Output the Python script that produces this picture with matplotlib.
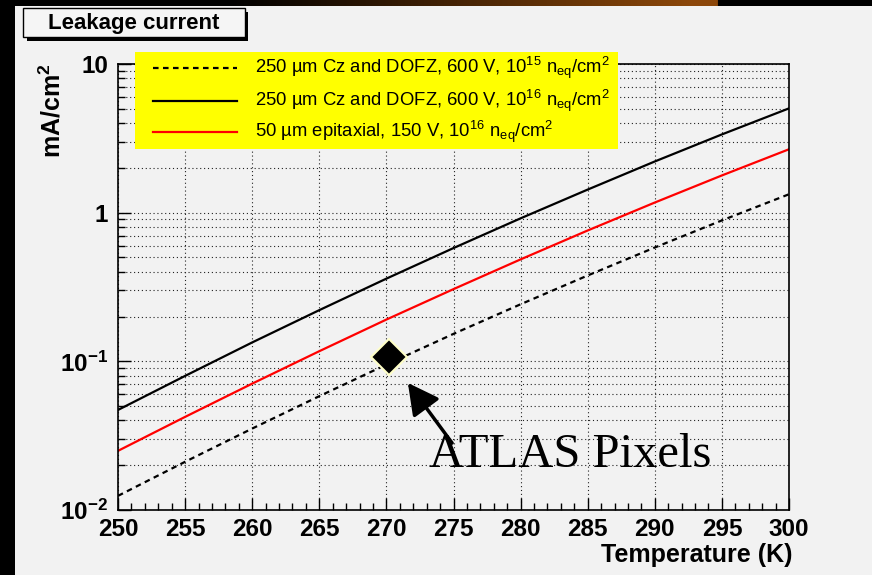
import numpy as np
import matplotlib
matplotlib.use("Agg")
import matplotlib.pyplot as plt
from matplotlib.patches import Rectangle
from matplotlib.lines import Line2D
from matplotlib.ticker import LogLocator, MultipleLocator, NullFormatter

plt.rcParams['font.family'] = ['Liberation Sans', 'DejaVu Sans']
plt.rcParams['mathtext.fontset'] = 'custom'
plt.rcParams['mathtext.rm'] = 'Liberation Sans'
plt.rcParams['mathtext.bf'] = 'Liberation Sans:bold'
plt.rcParams['mathtext.it'] = 'Liberation Sans:italic'
plt.rcParams['mathtext.default'] = 'regular'

# data (mA/cm^2 vs K)
temperature = [250, 255, 260, 265, 270, 275, 280, 285, 290, 295, 300]
cz_1e15 = [0.01245, 0.0211, 0.0353, 0.0583, 0.0951, 0.153, 0.242, 0.378, 0.583, 0.887, 1.33]
cz_1e16 = [0.0471, 0.0798, 0.134, 0.221, 0.360, 0.578, 0.916, 1.43, 2.21, 3.36, 5.03]
epi_1e16 = [0.0250, 0.0423, 0.0708, 0.117, 0.191, 0.306, 0.485, 0.759, 1.17, 1.78, 2.67]
atlas_T = 270.2
atlas_I = 0.107

legend_labels = [
    "250 µm Cz and DOFZ, 600 V, 10$^{15}$ n$_{eq}$/cm$^{2}$",
    "250 µm Cz and DOFZ, 600 V, 10$^{16}$ n$_{eq}$/cm$^{2}$",
    "50 µm epitaxial, 150 V, 10$^{16}$ n$_{eq}$/cm$^{2}$",
]
x_ticks = list(range(250, 301, 5))
y_ticks = [0.01, 0.1, 1, 10]
y_tick_labels = [r"$\mathbf{10^{-2}}$", r"$\mathbf{10^{-1}}$", "1", "10"]

BG = "#f2f2f2"
W, H = 872, 575


def fx(x):
    return x / W


def fy(y):
    return 1 - y / H


fig = plt.figure(figsize=(8.72, 5.75), dpi=100, facecolor=BG)

# frame decorations: black strip on the left, dark/orange strip on top
fig.add_artist(Rectangle((0, 0), fx(15), 1, transform=fig.transFigure,
                         facecolor="black", edgecolor="none", zorder=1))
strip = fig.add_axes([0, fy(6), 1, 6 / H])
xs = np.arange(W)
ramp = np.clip((xs - 230) / (690 - 230), 0, 1)
ramp[xs > 716] = 0
grad = np.zeros((1, W, 3))
grad[0, :, 0] = 0.55 * ramp
grad[0, :, 1] = 0.28 * ramp
grad[0, :, 2] = 0.04 * ramp
strip.imshow(grad, aspect="auto")
strip.axis("off")

ax = fig.add_axes([fx(118), fy(510), (789 - 118) / W, (510 - 64) / H])
ax.set_facecolor(BG)

ax.plot(temperature, cz_1e15, color="black", lw=1.6, ls=(0, (2.5, 2)))
ax.plot(temperature, cz_1e16, color="black", lw=1.6)
ax.plot(temperature, epi_1e16, color="red", lw=1.6)
ax.plot([atlas_T], [atlas_I], marker="D", ms=18, mfc="black",
        mec="#ffffc8", mew=1.5, ls="none", zorder=5)

ax.annotate("", xy=(271.6, 0.0716), xytext=(274.9, 0.0282),
            arrowprops=dict(arrowstyle="-|>,head_length=1.9,head_width=1.0",
                            lw=2.5, color="black", mutation_scale=10,
                            shrinkA=0, shrinkB=0))
ax.text(273.17, 0.0195, "ATLAS Pixels", family="Liberation Serif",
        fontsize=35, ha="left", va="baseline")

ax.set_yscale("log")
ax.set_xlim(250, 300)
ax.set_ylim(0.01, 10)
ax.set_xticks(x_ticks)
ax.set_xticklabels([str(t) for t in x_ticks], fontweight="bold")
ax.xaxis.set_minor_locator(MultipleLocator(1))
ax.set_yticks(y_ticks)
ax.set_yticklabels(y_tick_labels, fontweight="bold")
ax.yaxis.set_minor_locator(LogLocator(base=10, subs=np.arange(2, 10)))
ax.yaxis.set_minor_formatter(NullFormatter())

ax.tick_params(which="both", direction="in", top=False, right=False, width=1)
ax.tick_params(which="major", length=9, labelsize=17.5)
ax.tick_params(axis="x", which="major", pad=6)
ax.tick_params(axis="y", which="major", pad=7)
ax.tick_params(which="minor", length=5)

grid_style = dict(color="#222222", lw=0.8, ls=(0, (1, 2.5)))
ax.xaxis.grid(True, which="major", **grid_style)
ax.yaxis.grid(True, which="both", **grid_style)
ax.set_axisbelow(True)
for s in ax.spines.values():
    s.set_linewidth(1.2)

# axis titles
fig.text(fx(792), fy(562), "Temperature (K)", fontsize=18, fontweight="bold",
         ha="right", va="baseline")
fig.text(fx(52), fy(63), r"mA/cm$^{\mathbf{2}}$", fontsize=18, fontweight="bold",
         rotation=90, ha="center", va="top")

# title box with shadow
fig.add_artist(Rectangle((fx(27), fy(41)), 221 / W, 29 / H, transform=fig.transFigure,
                         facecolor="black", edgecolor="none", zorder=2))
fig.add_artist(Rectangle((fx(23), fy(37)), 222 / W, 29 / H, transform=fig.transFigure,
                         facecolor="#f5f5f5", edgecolor="black", lw=1, zorder=3))
fig.text(fx(134), fy(23), "Leakage current", fontsize=16, fontweight="bold",
         ha="center", va="center", zorder=4)

# legend
fig.add_artist(Rectangle((fx(135), fy(149)), (618 - 135) / W, (149 - 52) / H,
                         transform=fig.transFigure, facecolor="yellow",
                         edgecolor="none", zorder=5))
rows = [68, 101, 132]
styles = [dict(color="black", ls=(0, (2.5, 2))), dict(color="black", ls="-"),
          dict(color="red", ls="-")]
for row, st, lab in zip(rows, styles, legend_labels):
    fig.add_artist(Line2D([fx(153), fx(237)], [fy(row), fy(row)], lw=1.6,
                          transform=fig.transFigure, zorder=6, **st))
    fig.text(fx(255), fy(row), lab, fontsize=13.3, ha="left", va="center", zorder=6)

fig.savefig("out.png", dpi=100, facecolor=BG)
